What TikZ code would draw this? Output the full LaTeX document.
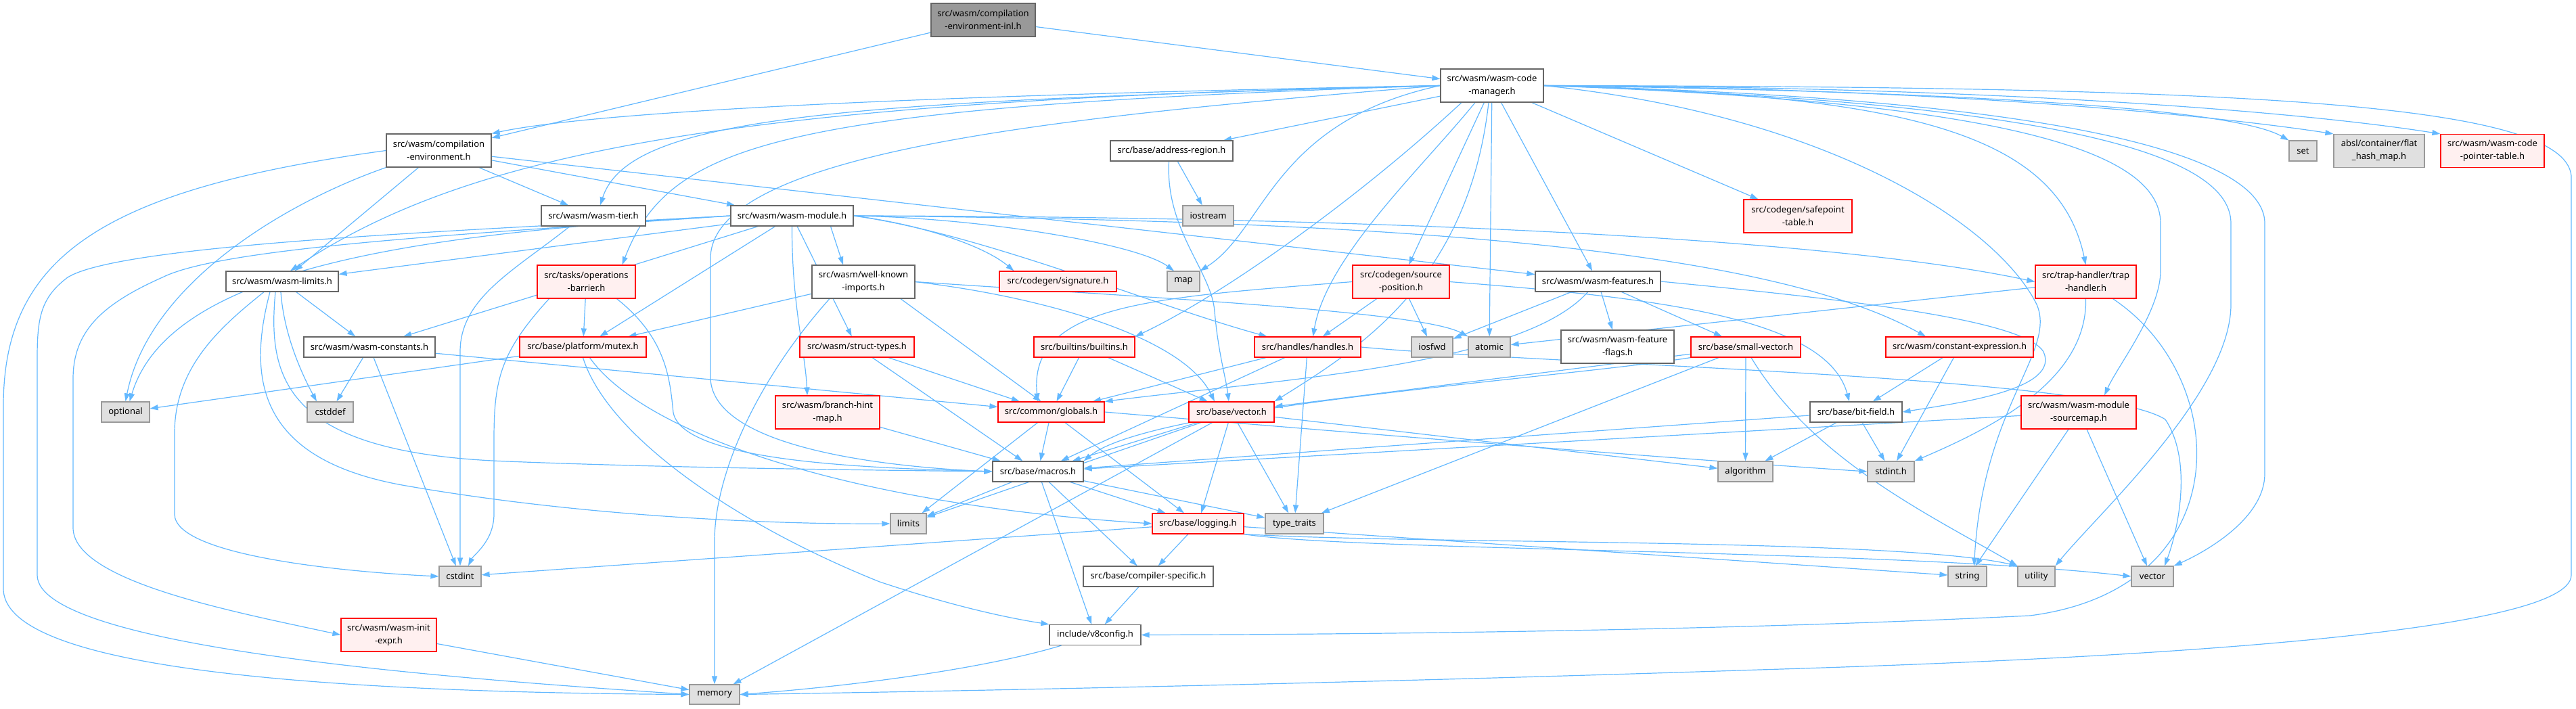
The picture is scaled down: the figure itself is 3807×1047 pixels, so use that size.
\documentclass[tikz,border=0pt]{standalone}
\usepackage{fontspec}
\setmainfont{Noto Sans}
\usetikzlibrary{arrows.meta}
\definecolor{edgeblue}{HTML}{63B8FF}
\definecolor{fileline}{HTML}{666666}
\definecolor{redline}{HTML}{FF0000}
\definecolor{redfill}{HTML}{FFF0F0}
\definecolor{sysline}{HTML}{999999}
\definecolor{sysfill}{HTML}{E0E0E0}
\definecolor{rootfill}{HTML}{999999}
\pgfdeclarelayer{bg}
\pgfsetlayers{bg,main}

\begin{document}
\begin{tikzpicture}[x=1pt, y=-1pt, >={Triangle[length=12pt,width=8pt]},
      file/.style={rectangle, draw=fileline, fill=white, line width=1.2pt,
          inner xsep=1pt, inner ysep=0pt, minimum height=30pt, align=center,
          font=\fontsize{13}{19}\selectfont},
      redfile/.style={file, draw=redline, fill=redfill},
      sysfile/.style={file, draw=sysline, fill=sysfill},
      rootfile/.style={file, draw=fileline, fill=rootfill},
      tall/.style={minimum height=49pt},
      dep/.style={->, draw=edgeblue, line width=1.2pt}]
    \useasboundingbox (0,0) rectangle (3807,1047);

    \node[rootfile, tall, minimum width=154pt] (inl) at (1453,29.5) {src/wasm/compilation\\-environment-inl.h};
    \node[file, tall, minimum width=152pt] (cm) at (2205,126.5) {src/wasm/wasm-code\\-manager.h};
    \node[file, tall, minimum width=155pt] (ce) at (648.5,222.5) {src/wasm/compilation\\-environment.h};
    \node[file, minimum width=181pt] (ar) at (1731.5,223) {src/base/address-region.h};
    \node[sysfile, minimum width=41pt] (set) at (3403.5,223) {set};
    \node[sysfile, tall, minimum width=134pt] (fhm) at (3516,223) {absl/container/flat\\\_hash\_map.h};
    \node[redfile, tall, minimum width=153pt] (cpt) at (3683.5,223) {src/wasm/wasm-code\\-pointer-table.h};
    \node[file, minimum width=154pt] (tier) at (877,319) {src/wasm/wasm-tier.h};
    \node[file, minimum width=181pt] (mod) at (1170.5,319) {src/wasm/wasm-module.h};
    \node[sysfile, minimum width=75pt] (ios) at (1785.5,319) {iostream};
    \node[redfile, tall, minimum width=160pt] (spt) at (2657,319.5) {src/codegen/safepoint\\-table.h};
    \node[file, minimum width=166pt] (lim) at (417,416) {src/wasm/wasm-limits.h};
    \node[redfile, tall, minimum width=145pt] (ob) at (866.5,416.5) {src/tasks/operations\\-barrier.h};
    \node[file, tall, minimum width=152pt] (wki) at (1276,416.5) {src/wasm/well-known\\-imports.h};
    \node[redfile, minimum width=173pt] (sig) at (1563.5,416) {src/codegen/signature.h};
    \node[sysfile, minimum width=48pt] (map) at (1749,416) {map};
    \node[redfile, tall, minimum width=143pt] (sp) at (2070.5,416.5) {src/codegen/source\\-position.h};
    \node[file, minimum width=185pt] (feat) at (2361.5,416) {src/wasm/wasm-features.h};
    \node[redfile, tall, minimum width=149pt] (th) at (3082.5,416.5) {src/trap-handler/trap\\-handler.h};
    \node[file, minimum width=194pt] (cst) at (546,513) {src/wasm/wasm-constants.h};
    \node[redfile, minimum width=187pt] (mtx) at (861.5,513) {src/base/platform/mutex.h};
    \node[redfile, minimum width=169pt] (st) at (1266.5,513) {src/wasm/struct-types.h};
    \node[redfile, minimum width=149pt] (bi) at (1602.5,513) {src/builtins/builtins.h};
    \node[redfile, minimum width=157pt] (hnd) at (1932.5,513) {src/handles/handles.h};
    \node[sysfile, minimum width=61pt] (iosfwd) at (2116.5,513) {iosfwd};
    \node[sysfile, minimum width=62pt] (atomic) at (2201,513) {atomic};
    \node[file, tall, minimum width=167pt] (ff) at (2390.5,512.5) {src/wasm/wasm-feature\\-flags.h};
    \node[redfile, minimum width=162pt] (sv) at (2580,513) {src/base/small-vector.h};
    \node[redfile, minimum width=218pt] (cex) at (2896,513) {src/wasm/constant-expression.h};
    \node[sysfile, minimum width=71pt] (opt) at (185.5,609) {optional};
    \node[sysfile, minimum width=68pt] (cdef) at (488,609) {cstddef};
    \node[redfile, tall, minimum width=154pt] (bhm) at (1223,609.5) {src/wasm/branch-hint\\-map.h};
    \node[redfile, minimum width=157pt] (glob) at (1553.5,609) {src/common/globals.h};
    \node[redfile, minimum width=126pt] (vec) at (1820,609) {src/base/vector.h};
    \node[file, minimum width=136pt] (bf) at (2743,609) {src/base/bit-field.h};
    \node[redfile, tall, minimum width=170pt] (msm) at (3072,609.5) {src/wasm/wasm-module\\-sourcemap.h};
    \node[file, minimum width=134pt] (mac) at (1534,697) {src/base/macros.h};
    \node[sysfile, minimum width=81pt] (alg) at (2579.5,697) {algorithm};
    \node[sysfile, minimum width=69pt] (stdint) at (2794.5,697) {stdint.h};
    \node[sysfile, minimum width=53pt] (limits) at (1342.5,774) {limits};
    \node[redfile, minimum width=135pt] (log) at (1770.5,774) {src/base/logging.h};
    \node[sysfile, minimum width=86pt] (tt) at (1913,774) {type\_traits};
    \node[sysfile, minimum width=62pt] (cstdint) at (680,852) {cstdint};
    \node[file, minimum width=192pt] (cs) at (1697,852) {src/base/compiler-specific.h};
    \node[sysfile, minimum width=57pt] (string) at (2907.5,852) {string};
    \node[sysfile, minimum width=55pt] (util) at (3009.5,852) {utility};
    \node[sysfile, minimum width=62pt] (svec) at (3181,852) {vector};
    \node[redfile, tall, minimum width=141pt] (ie) at (574.5,938.5) {src/wasm/wasm-init\\-expr.h};
    \node[file, minimum width=135pt] (v8c) at (1618.5,938.5) {include/v8config.h};
    \node[sysfile, minimum width=74pt, minimum height=29pt] (mem) at (1056,1026.5) {memory};

    \begin{pgfonlayer}{bg}
    \foreach \a/\b in {inl/ce, inl/cm, ce/lim, ce/tier, ce/mod, ce/feat, cm/ar, cm/sp,
        cm/atomic, cm/feat, cm/spt, mod/lim, mod/mtx, mod/st, mod/cst, wki/mtx, ob/mtx,
        lim/cst, cst/cdef, cst/cstdint, cst/glob, mtx/opt, st/glob, st/mac, bhm/mac,
        bi/glob, bi/vec, sp/hnd, sp/iosfwd, hnd/glob, hnd/mac, hnd/tt, feat/ff, feat/sv,
        feat/iosfwd, sv/alg, sv/tt, sv/vec, vec/alg, vec/mac, vec/log, vec/tt, vec/limits,
        vec/mem, glob/mac, glob/log, glob/limits, mac/limits, mac/tt, mac/v8c, mac/cs,
        mac/log, log/cs, log/cstdint, log/string, cs/v8c, ie/mem, bf/alg, bf/stdint,
        bf/mac, cex/bf, cex/stdint, ar/ios, th/atomic, msm/mac}
      \draw[dep] (\a) -- (\b);

    % code manager
    \draw[dep] (cm.west) .. controls (1500,138) and (900,160) .. (ce.north east);
    \draw[dep] (cm.west) .. controls (1100,148) and (700,220) .. ([xshift=12]lim.north);
    \draw[dep] (cm.west) .. controls (1250,150) and (930,170) .. ([xshift=10]tier.north);
    \draw[dep] (cm.west) .. controls (1150,158) and (990,210) .. ([xshift=53]ob.north);
    \draw[dep] (cm.west) .. controls (1600,170) and (1055,220) .. (1050,380) -- (1050,560)
        .. controls (1055,660) and (1300,690) .. (mac.west);
    \draw[dep] (cm.west) .. controls (1880,180) and (1870,340) .. (map.north east);
    \draw[dep] ([xshift=-45]cm.south) .. controls (2000,300) and (1800,440) .. (bi.north east);
    \draw[dep] ([xshift=-25]cm.south) .. controls (2100,250) and (1960,380) .. ([xshift=8]hnd.north);
    \draw[dep] ([xshift=-5]cm.south) .. controls (2170,420) and (2000,520) .. (vec.north east);
    \draw[dep] (cm.east) .. controls (2900,135) and (3300,160) .. (set.north west);
    \draw[dep] (cm.east) .. controls (2900,130) and (3300,175) .. (fhm.north west);
    \draw[dep] (cm.east) .. controls (2950,128) and (3400,165) .. (cpt.north west);
    \draw[dep] (cm.east) .. controls (3300,128) and (3790,150) .. (3800,260) -- (3800,850)
        .. controls (3800,940) and (3100,975) .. (2600,990)
        .. controls (2000,1010) and (1400,1022) .. (mem.east);
    \draw[dep] (cm.east) .. controls (2800,140) and (3040,190) .. (th.north);
    \draw[dep] (cm.east) .. controls (2950,150) and (3193,220) .. (3193,330) -- (3193,400)
        .. controls (3193,460) and (3130,540) .. ([xshift=38]msm.north);
    \draw[dep] (cm.east) .. controls (3000,150) and (3297,220) .. (3297,330) -- (3297,450)
        .. controls (3297,580) and (3100,760) .. (util.north east);
    \draw[dep] (cm.east) .. controls (3050,145) and (3347,230) .. (3347,330) -- (3347,700)
        .. controls (3347,770) and (3250,820) .. (svec.north east);
    \draw[dep] (cm.east) .. controls (2700,170) and (2950,330) .. (3010,450)
        .. controls (3040,520) and (2930,600) .. ([xshift=10]string.north);

    % wasm module
    \draw[dep] (mod.west) .. controls (700,340) and (180,360) .. (100,410)
        .. controls (60,440) and (55,470) .. (55,530) -- (55,850)
        .. controls (55,960) and (700,1005) .. (mem.west);
    \draw[dep] (mod.west) .. controls (700,345) and (330,365) .. (240,410)
        .. controls (150,450) and (108,490) .. (108,560) -- (108,780)
        .. controls (108,860) and (350,905) .. (ie.west);
    \draw[dep] (mod.west) .. controls (600,345) and (250,400) .. ([xshift=6]opt.north);
    \draw[dep] (mod.south) .. controls (1170,450) and (1190,520) .. ([xshift=-30]bhm.north);
    \draw[dep] ([xshift=57]mod.south) -- ([xshift=-30]wki.north);
    \draw[dep] (mod.east) .. controls (1350,330) and (1450,360) .. ([xshift=-65]sig.north);
    \draw[dep] (mod.east) .. controls (1450,322) and (1680,360) .. ([xshift=-14]map.north);
    \draw[dep] (mod.east) .. controls (1450,345) and (1700,450) .. ([xshift=-60]hnd.north);
    \draw[dep] (mod.east) .. controls (2000,320) and (2700,350) .. (th.west);
    \draw[dep] (mod.east) .. controls (2000,325) and (2600,360) .. ([xshift=-50]cex.north);

    % compilation environment
    \draw[dep] (ce.west) .. controls (150,280) and (5,380) .. (5,600) -- (5,870)
        .. controls (5,965) and (300,1022) .. (mem.west);
    \draw[dep] (ce.south west) .. controls (420,300) and (220,420) .. (opt.north);

    % well-known imports
    \draw[dep] (wki.east) .. controls (1700,440) and (2100,460) .. (atomic.north west);
    \draw[dep] (wki.east) .. controls (1550,440) and (1750,500) .. ([xshift=-25]vec.north);
    \draw[dep] ([xshift=-50]wki.south) .. controls (1120,560) and (1056,700) .. (1056,800) -- (mem.north);
    \draw[dep] ([xshift=55]wki.south) -- ([xshift=-15]glob.north);

    % operations barrier, tier, limits
    \draw[dep] ([xshift=-55]ob.south) .. controls (740,520) and (730,560) .. (730,650) -- (730,760)
        .. controls (730,800) and (700,820) .. ([xshift=12]cstdint.north);
    \draw[dep] ([xshift=45]ob.south) .. controls (985,500) and (990,560) .. (995,610)
        .. controls (1010,685) and (1300,692) .. (mac.west);
    \draw[dep] ([xshift=-35]tier.south) .. controls (760,400) and (680,440) .. (680,520) -- (cstdint.north);
    \draw[dep] ([xshift=-2]lim.south) .. controls (420,500) and (450,560) .. ([xshift=-20]cdef.north);
    \draw[dep] ([xshift=-27]lim.south) .. controls (330,480) and (258,540) .. (258,640) -- (258,760)
        .. controls (258,820) and (500,845) .. (cstdint.west);
    \draw[dep] ([xshift=-10]lim.south) .. controls (395,560) and (420,670) .. (750,682)
        .. controls (1000,692) and (1300,695) .. (mac.west);
    \draw[dep] ([xshift=-18]lim.south) .. controls (365,560) and (380,680) .. (600,718)
        .. controls (900,770) and (1200,775) .. (limits.west);

    % mutex
    \draw[dep] ([xshift=10]mtx.south) .. controls (950,640) and (1250,745) .. (log.west);
    \draw[dep] (mtx.south) .. controls (900,650) and (1100,780) .. (1300,860)
        .. controls (1420,900) and (1500,915) .. (v8c.north west);

    % source position, handles, features
    \draw[dep] (sp.west) .. controls (1700,440) and (1520,450) .. ([xshift=-20]glob.north);
    \draw[dep] (sp.east) .. controls (2450,440) and (2700,470) .. ([xshift=-10]bf.north);
    \draw[dep] (hnd.east) .. controls (2300,540) and (3100,555) .. (3200,620)
        .. controls (3240,680) and (3220,780) .. ([xshift=18]svec.north);
    \draw[dep] ([xshift=-15]feat.south) .. controls (2250,540) and (1900,560) .. (glob.north east);
    \draw[dep] (feat.east) .. controls (2700,440) and (2990,470) .. (3020,520)
        .. controls (3045,575) and (2900,595) .. (bf.east);

    % small vector, globals, logging
    \draw[dep] ([xshift=8]sv.south) .. controls (2680,680) and (2850,760) .. (util.north west);
    \draw[dep] (sv.south west) .. controls (2300,560) and (1700,600) .. (mac.north east);
    \draw[dep] (glob.east) .. controls (2000,640) and (2500,680) .. (stdint.west);
    \draw[dep] (log.south east) .. controls (2000,815) and (2800,812) .. (svec.west);
    \draw[dep] (log.south east) .. controls (2100,805) and (2800,795) .. (util.north west);
    \draw[dep] ([xshift=-50]v8c.south) .. controls (1450,990) and (1250,1015) .. (mem.east);

    % trap handler, sourcemap, address region
    \draw[dep] (th.south) .. controls (3085,560) and (2950,630) .. (stdint.north east);
    \draw[dep] ([xshift=40]th.south) .. controls (3300,560) and (3310,870) .. (3000,910)
        .. controls (2500,935) and (1900,938) .. (v8c.east);
    \draw[dep] ([xshift=-15]msm.south) -- ([xshift=12]string.north);
    \draw[dep] ([xshift=12]msm.south) -- ([xshift=-8]svec.north);
    \draw[dep] ([xshift=-4]ar.south) .. controls (1722,340) and (1790,400) .. (1795,460)
        .. controls (1800,520) and (1812,560) .. ([xshift=-4]vec.north);
    \end{pgfonlayer}
  \end{tikzpicture}
\end{document}
